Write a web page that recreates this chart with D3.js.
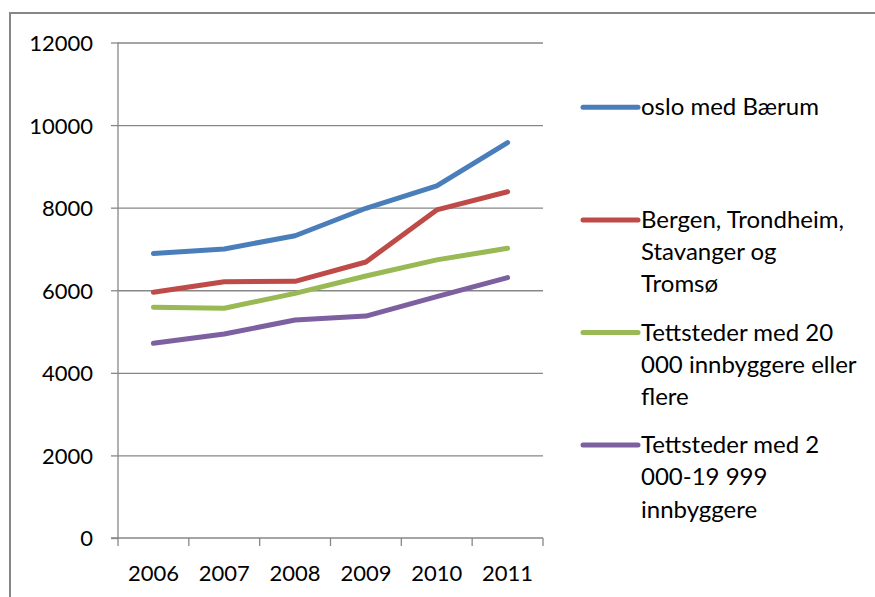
<!DOCTYPE html>
<html>
<head>
<meta charset="utf-8">
<script src="https://cdn.jsdelivr.net/npm/d3@7"></script>
<style>
  html, body { margin: 0; padding: 0; background: #fff; }
  svg { display: block; }
</style>
</head>
<body>
<div id="chart"></div>
<script>
// data
const years = ["2006", "2007", "2008", "2009", "2010", "2011"];
const yTicks = [0, 2000, 4000, 6000, 8000, 10000, 12000];

const osloBaerum = [6890, 7000, 7320, 7985, 8525, 9575];
const bergenEtc = [5950, 6205, 6215, 6685, 7945, 8385];
const tettsteder20k = [5590, 5565, 5925, 6345, 6735, 7015];
const tettsteder2k = [4715, 4940, 5280, 5375, 5845, 6305];

const seriesNames = [
  ["oslo med Bærum"],
  ["Bergen, Trondheim,", "Stavanger og", "Tromsø"],
  ["Tettsteder med 20", "000 innbyggere eller", "flere"],
  ["Tettsteder med 2", "000-19 999", "innbyggere"]
];
const seriesColors = ["#4a7ebb", "#be4b48", "#98b954", "#7d60a0"];

const series = [osloBaerum, bergenEtc, tettsteder20k, tettsteder2k].map((values, i) => ({
  name: seriesNames[i],
  color: seriesColors[i],
  values: values.map((v, j) => ({ year: years[j], value: v }))
}));

//## Layout

const width = 875;
const height = 597;
const plot = { left: 118, right: 543, top: 42.5, bottom: 538 };
const fontFamily = "Lato, 'Open Sans', sans-serif";
const axisColor = "#878787";

const svg = d3.select("#chart")
  .append("svg")
  .attr("width", width)
  .attr("height", height);

// outer chart frame (only top and left edges fall inside the picture)
svg.append("path")
  .attr("d", `M10,${height + 5}V13H${width + 5}`)
  .attr("fill", "none")
  .attr("stroke", axisColor)
  .attr("stroke-width", 2);

const x = d3.scaleBand()
  .domain(years)
  .range([plot.left, plot.right]);

const y = d3.scaleLinear()
  .domain([0, 12000])
  .range([plot.bottom, plot.top]);

// gridlines + y axis
const yAxis = svg.append("g")
  .attr("transform", `translate(${plot.left},0)`)
  .call(d3.axisLeft(y)
    .tickValues(yTicks)
    .tickSize(7)
    .tickPadding(18)
    .tickFormat(d3.format("d")));

yAxis.select(".domain").remove();
yAxis.selectAll(".tick line")
  .attr("stroke", axisColor)
  .attr("stroke-width", 1.3);
yAxis.selectAll(".tick")
  .filter((d) => d > 0)
  .append("line")
  .attr("x2", plot.right - plot.left)
  .attr("stroke", axisColor)
  .attr("stroke-width", 1.3);
yAxis.selectAll("text")
  .style("font-family", fontFamily)
  .style("font-size", "22px")
  .attr("fill", "#000")
  .attr("dy", "0.36em");

svg.append("line")
  .attr("x1", plot.left)
  .attr("x2", plot.left)
  .attr("y1", plot.top)
  .attr("y2", plot.bottom)
  .attr("stroke", axisColor)
  .attr("stroke-width", 1.3);

// x axis with ticks on the category boundaries
const xAxis = svg.append("g")
  .attr("transform", `translate(0,${plot.bottom})`);

xAxis.append("line")
  .attr("x1", plot.left - 7)
  .attr("x2", plot.right)
  .attr("stroke", axisColor)
  .attr("stroke-width", 1.3);

xAxis.selectAll("line.boundary")
  .data(years.concat(["end"]))
  .join("line")
  .attr("class", "boundary")
  .attr("x1", (d, i) => plot.left + i * x.bandwidth())
  .attr("x2", (d, i) => plot.left + i * x.bandwidth())
  .attr("y1", 0)
  .attr("y2", 8)
  .attr("stroke", axisColor)
  .attr("stroke-width", 1.3);

xAxis.selectAll("text")
  .data(years)
  .join("text")
  .attr("x", (d) => x(d) + x.bandwidth() / 2)
  .attr("y", 43)
  .attr("text-anchor", "middle")
  .style("font-family", fontFamily)
  .style("font-size", "22px")
  .attr("fill", "#000")
  .text((d) => d);

// lines
const line = d3.line()
  .x((d) => x(d.year) + x.bandwidth() / 2)
  .y((d) => y(d.value));

svg.append("g")
  .selectAll("path")
  .data(series)
  .join("path")
  .attr("d", (d) => line(d.values))
  .attr("fill", "none")
  .attr("stroke", (d) => d.color)
  .attr("stroke-width", 5)
  .attr("stroke-linecap", "round")
  .attr("stroke-linejoin", "round");

//## Legend

const legendTop = 107.3;
const legendStep = 112.6;
const lineHeight = 32.3;

const legend = svg.append("g")
  .selectAll("g")
  .data(series)
  .join("g")
  .attr("transform", (d, i) => `translate(583,${legendTop + i * legendStep})`);

legend.append("line")
  .attr("x2", 55)
  .attr("stroke", (d) => d.color)
  .attr("stroke-width", 5)
  .attr("stroke-linecap", "round");

legend.append("text")
  .style("font-family", fontFamily)
  .style("font-size", "24px")
  .attr("fill", "#000")
  .selectAll("tspan")
  .data((d) => d.name)
  .join("tspan")
  .attr("x", 58)
  .attr("y", (d, i) => 8 + i * lineHeight)
  .text((d) => d);
</script>
</body>
</html>
